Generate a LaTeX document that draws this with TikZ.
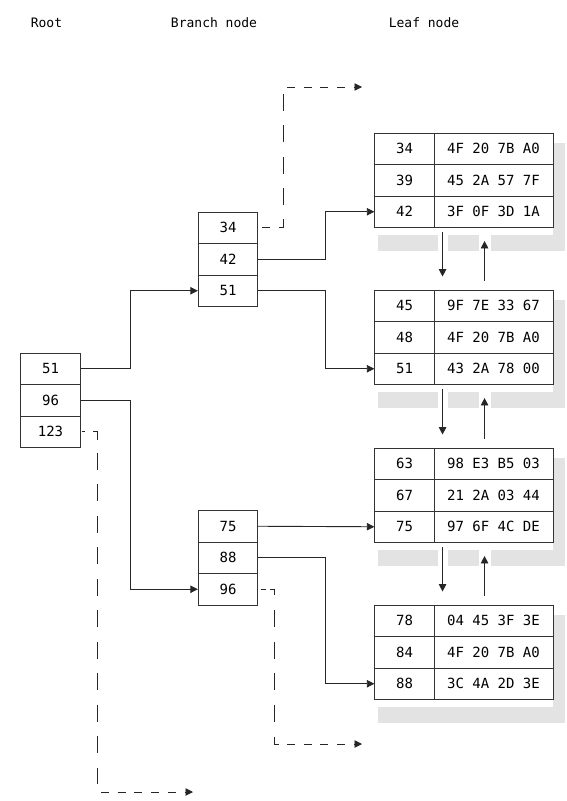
\documentclass[tikz,border=0pt]{standalone}
\usepackage{fontspec}
\usetikzlibrary{arrows.meta,calc}
\newfontfamily\mono{DejaVu Sans Mono}
\begin{document}
\begin{tikzpicture}[x=1pt,y=-1pt,
  cell/.style={draw=black!80,line width=0.9pt,minimum height=31.5pt,inner sep=0pt,
    font=\mono\fontsize{14}{16}\selectfont,anchor=center},
  kcell/.style={cell,minimum width=59.5pt},
  hcell/.style={cell,minimum width=119pt},
  head/.style={font=\mono\fontsize{13}{15}\selectfont,inner sep=0pt},
  link/.style={draw=black!85,line width=0.9pt},
  arr/.style={link,-{Triangle[length=7.5pt,width=7.5pt]}},
  hdashed/.style={link,dash pattern=on 8pt off 8.7pt},
  vdashed/.style={link,dash pattern=on 17pt off 14.5pt},
  shade/.style={fill=black!11,draw=none}]
\useasboundingbox (0,0) rectangle (567,801);

% headers
\node[head] (hroot) at (46.5,23) {Root};
\node[head] (hbranch) at (214,23) {Branch node};
\node[head] (hleaf) at (424,23) {Leaf node};

% shadows of leaf nodes
\foreach \t in {133,290,448} {
  \pgfmathsetmacro\b{\t+94.5}
  \fill[shade] (553,\t+10) rectangle (565,\b+23);
  \fill[shade] (378,\b+7) rectangle (438,\b+23);
  \fill[shade] (448,\b+7) rectangle (479,\b+23);
  \fill[shade] (491,\b+7) rectangle (565,\b+23);
}
\fill[shade] (553,615) rectangle (565,722.5);
\fill[shade] (378,706.5) rectangle (565,722.5);

% root
\node[kcell] (r1) at (50.5,368.75) {51};
\node[kcell] (r2) at (50.5,400.25) {96};
\node[kcell] (r3) at (50.5,431.75) {123};

% branch nodes
\node[kcell] (b11) at (228,227.75) {34};
\node[kcell] (b12) at (228,259.25) {42};
\node[kcell] (b13) at (228,290.75) {51};
\node[kcell] (b21) at (228,526.25) {75};
\node[kcell] (b22) at (228,557.75) {88};
\node[kcell] (b23) at (228,589.25) {96};

% leaf nodes
\node[kcell] (l1k1) at (404.5,148.75) {34};
\node[hcell] (l1h1) at (493.5,148.75) {4F 20 7B A0};
\node[kcell] (l1k2) at (404.5,180.25) {39};
\node[hcell] (l1h2) at (493.5,180.25) {45 2A 57 7F};
\node[kcell] (l1k3) at (404.5,211.75) {42};
\node[hcell] (l1h3) at (493.5,211.75) {3F 0F 3D 1A};

\node[kcell] (l2k1) at (404.5,305.75) {45};
\node[hcell] (l2h1) at (493.5,305.75) {9F 7E 33 67};
\node[kcell] (l2k2) at (404.5,337.25) {48};
\node[hcell] (l2h2) at (493.5,337.25) {4F 20 7B A0};
\node[kcell] (l2k3) at (404.5,368.75) {51};
\node[hcell] (l2h3) at (493.5,368.75) {43 2A 78 00};

\node[kcell] (l3k1) at (404.5,463.75) {63};
\node[hcell] (l3h1) at (493.5,463.75) {98 E3 B5 03};
\node[kcell] (l3k2) at (404.5,495.25) {67};
\node[hcell] (l3h2) at (493.5,495.25) {21 2A 03 44};
\node[kcell] (l3k3) at (404.5,526.75) {75};
\node[hcell] (l3h3) at (493.5,526.75) {97 6F 4C DE};

\node[kcell] (l4k1) at (404.5,620.75) {78};
\node[hcell] (l4h1) at (493.5,620.75) {04 45 3F 3E};
\node[kcell] (l4k2) at (404.5,652.25) {84};
\node[hcell] (l4h2) at (493.5,652.25) {4F 20 7B A0};
\node[kcell] (l4k3) at (404.5,683.75) {88};
\node[hcell] (l4h3) at (493.5,683.75) {3C 4A 2D 3E};

% solid connectors
\draw[arr] (r1.east) -- ++(50,0) |- (b13.west);
\draw[arr] (r2.east) -- ++(50,0) |- (b23.west);
\draw[arr] (b12.east) -- ++(67,0) |- (l1k3.west);
\draw[arr] (b13.east) -- ++(67,0) |- (l2k3.west);
\draw[arr] (b21.east) -- (l3k3.west);
\draw[arr] (b22.east) -- ++(67,0) |- (l4k3.west);

% leaf sibling links
\foreach \u/\l in {l1h3/l2h1,l2h3/l3h1,l3h3/l4h1} {
  \draw[arr] ($(\u.south west)+(9,4)$) -- ($(\l.north west)+(9,-13)$);
  \draw[arr] ($(\l.north west)+(51,-9)$) -- ($(\u.south west)+(51,13)$);
}

% dashed: root 123 -> overflow
\coordinate (d1a) at (97,431.75);
\coordinate (d1b) at (97,792);
\coordinate (d1c) at (193,792);
\draw[link] ($(r3.east)+(1,0)$) -- ++(3.5,0);
\draw[link] ($(d1a)+(-4,0)$) -- (d1a) -- ++(0,8);
\draw[vdashed] ($(d1a)+(0,21)$) -- ($(d1b)+(0,-8)$);
\draw[hdashed] ($(d1b)+(4,0)$) -- ($(d1c)+(-16,0)$);
\draw[arr] ($(d1c)+(-8.5,0)$) -- (d1c);

% dashed: branch 34 -> left
\coordinate (d2a) at (283,227.75);
\coordinate (d2b) at (283,87);
\coordinate (d2c) at (362,87);
\draw[link] ($(b11.east)+(4,0)$) -- ++(8,0);
\draw[link] ($(d2a)+(-4,0)$) -- (d2a) -- ++(0,-8.5);
\draw[vdashed] ($(d2a)+(0,-22.5)$) -- ($(d2b)+(0,6)$);
\draw[hdashed] ($(d2b)+(4,0)$) -- ($(d2c)+(-16,0)$);
\draw[arr] ($(d2c)+(-8.5,0)$) -- (d2c);

% dashed: branch 96 -> right
\coordinate (d3a) at (274,589.25);
\coordinate (d3b) at (274,744);
\coordinate (d3c) at (362,744);
\draw[link] ($(b23.east)+(2.5,0)$) -- ++(5,0);
\draw[link] ($(d3a)+(-4,0)$) -- (d3a) -- ++(0,6);
\draw[vdashed] ($(d3a)+(0,20.75)$) -- ($(d3b)+(0,-22)$);
\draw[link] ($(d3b)+(0,-7.5)$) -- (d3b) -- ++(5,0);
\draw[hdashed] ($(d3b)+(13,0)$) -- ($(d3c)+(-16,0)$);
\draw[arr] ($(d3c)+(-8.5,0)$) -- (d3c);
\end{tikzpicture}
\end{document}
